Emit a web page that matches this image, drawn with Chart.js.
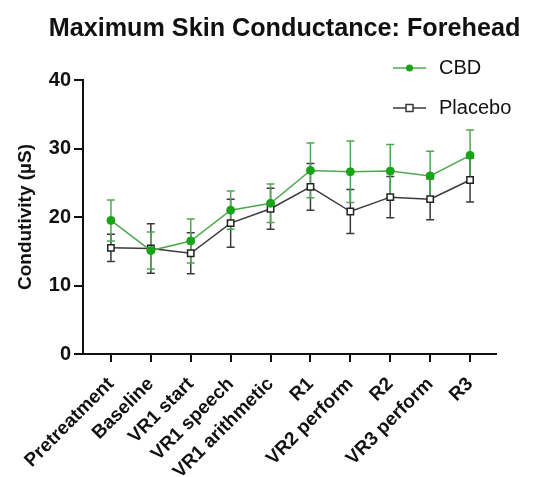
<!DOCTYPE html>
<html>
<head>
<meta charset="utf-8">
<script src="https://cdn.jsdelivr.net/npm/chart.js@4.4.1/dist/chart.umd.min.js"></script>
<style>
  html, body { margin: 0; padding: 0; background: #fff; }
  #wrap { width: 536px; height: 477px; }
</style>
</head>
<body>
<div id="wrap"><canvas id="grafik" width="536" height="477"></canvas></div>
<script>
// kategori sesi dan nilai rata-rata +/- SEM
const categories = ['Pretreatment', 'Baseline', 'VR1 start', 'VR1 speech', 'VR1 arithmetic', 'R1', 'VR2 perform', 'R2', 'VR3 perform', 'R3'];
const cbdMean = [19.5, 15.1, 16.5, 21.0, 22.0, 26.8, 26.6, 26.7, 26.0, 29.0];
const cbdErr = [3.0, 2.7, 3.2, 2.8, 2.8, 4.0, 4.5, 3.9, 3.6, 3.7];
const placeboMean = [15.5, 15.4, 14.7, 19.1, 21.2, 24.4, 20.8, 22.9, 22.6, 25.4];
const placeboErr = [2.0, 3.6, 3.0, 3.5, 3.0, 3.4, 3.2, 3.0, 3.0, 3.2];
const yTicks = [0, 10, 20, 30, 40];

const hijau = '#4fa84f';
const hijauTitik = '#19a319';
const abu = '#3a3a3a';
const fontUtama = "'Liberation Sans', Arial, Helvetica, sans-serif";

function toPoints(arr) {
    return arr.map((v, i) => ({ x: i, y: v }));
}

// garis error (SEM) di bawah garis data
const errorBars = {
    id: 'errorBars',
    beforeDatasetsDraw(chart) {
        const ctx = chart.ctx;
        const y = chart.scales.y;
        const urutan = [1, 0];
        urutan.forEach(di => {
            const ds = chart.data.datasets[di];
            const meta = chart.getDatasetMeta(di);
            ctx.save();
            ctx.strokeStyle = ds.errColor;
            ctx.lineWidth = 1.5;
            meta.data.forEach((el, i) => {
                const atas = y.getPixelForValue(ds.mean[i] + ds.err[i]);
                const bawah = y.getPixelForValue(ds.mean[i] - ds.err[i]);
                ctx.beginPath();
                ctx.moveTo(el.x, atas);
                ctx.lineTo(el.x, bawah);
                ctx.moveTo(el.x - 4, atas);
                ctx.lineTo(el.x + 4, atas);
                ctx.moveTo(el.x - 4, bawah);
                ctx.lineTo(el.x + 4, bawah);
                ctx.stroke();
            });
            ctx.restore();
        });
    }
};

// judul dan legenda digambar manual
const judulLegenda = {
    id: 'judulLegenda',
    afterDraw(chart) {
        const ctx = chart.ctx;
        const area = chart.chartArea;
        ctx.save();
        ctx.fillStyle = '#111';
        ctx.font = 'bold 25.2px ' + fontUtama;
        ctx.textAlign = 'center';
        ctx.textBaseline = 'middle';
        ctx.fillText('Maximum Skin Conductance: Forehead', (area.left + area.right) / 2 - 5, 29);

        const x0 = area.right - 103;
        const x1 = area.right - 70;
        const xm = (x0 + x1) / 2;
        ctx.font = '20px ' + fontUtama;
        ctx.textAlign = 'left';

        // CBD
        let yy = area.top - 12;
        ctx.strokeStyle = hijau;
        ctx.lineWidth = 1.5;
        ctx.beginPath(); ctx.moveTo(x0, yy); ctx.lineTo(x1, yy); ctx.stroke();
        ctx.fillStyle = hijauTitik;
        ctx.beginPath(); ctx.arc(xm, yy, 3.5, 0, Math.PI * 2); ctx.fill();
        ctx.fillStyle = '#111';
        ctx.fillText('CBD', area.right - 57, yy);

        // Placebo
        yy = area.top + 28;
        ctx.strokeStyle = abu;
        ctx.beginPath(); ctx.moveTo(x0, yy); ctx.lineTo(x1, yy); ctx.stroke();
        ctx.fillStyle = '#fff';
        ctx.fillRect(xm - 3.5, yy - 3.5, 7, 7);
        ctx.strokeRect(xm - 3.5, yy - 3.5, 7, 7);
        ctx.fillStyle = '#111';
        ctx.fillText('Placebo', area.right - 57, yy);
        ctx.restore();
    }
};

const ctx = document.getElementById('grafik').getContext('2d');
const grafik = new Chart(ctx, {
    type: 'line',
    data: {
        datasets: [
            {
                label: 'CBD',
                data: toPoints(cbdMean),
                mean: cbdMean,
                err: cbdErr,
                errColor: hijau,
                borderColor: hijau,
                borderWidth: 1.5,
                pointStyle: 'circle',
                pointRadius: 4,
                pointBackgroundColor: hijauTitik,
                pointBorderColor: hijauTitik,
                pointBorderWidth: 1,
                tension: 0
            },
            {
                label: 'Placebo',
                data: toPoints(placeboMean),
                mean: placeboMean,
                err: placeboErr,
                errColor: abu,
                borderColor: abu,
                borderWidth: 1.5,
                pointStyle: 'rect',
                pointRadius: 4.5,
                pointBackgroundColor: '#fff',
                pointBorderColor: '#222',
                pointBorderWidth: 1.5,
                tension: 0
            }
        ]
    },
    options: {
        responsive: false,
        animation: false,
        layout: { padding: { top: 80, right: 40, left: 0, bottom: 0 } },
        plugins: {
            legend: { display: false },
            tooltip: { enabled: false }
        },
        scales: {
            x: {
                type: 'linear',
                min: -0.7,
                max: 9.65,
                afterBuildTicks: (s) => { s.ticks = categories.map((_, i) => ({ value: i })); },
                afterFit: (s) => { s.height = 123; },
                ticks: {
                    autoSkip: false,
                    minRotation: 45,
                    maxRotation: 45,
                    padding: 11,
                    color: '#111',
                    font: { family: fontUtama, size: 19, weight: 'bold' },
                    callback: (v) => categories[v]
                },
                grid: { drawOnChartArea: false, tickLength: 8, color: '#111', lineWidth: 2 },
                border: { color: '#111', width: 2 }
            },
            y: {
                min: 0,
                max: 40,
                afterBuildTicks: (s) => { s.ticks = yTicks.map(v => ({ value: v })); },
                afterFit: (s) => { s.width = 83; },
                ticks: {
                    padding: 3,
                    color: '#111',
                    font: { family: fontUtama, size: 20, weight: 'bold' }
                },
                grid: { drawOnChartArea: false, tickLength: 9, color: '#111', lineWidth: 2 },
                border: { color: '#111', width: 2 },
                title: {
                    display: true,
                    text: 'Condutivity (µS)',
                    color: '#111',
                    font: { family: fontUtama, size: 19, weight: 'bold' },
                    padding: { top: 14, bottom: 0 }
                }
            }
        }
    },
    plugins: [errorBars, judulLegenda]
});
</script>
</body>
</html>
